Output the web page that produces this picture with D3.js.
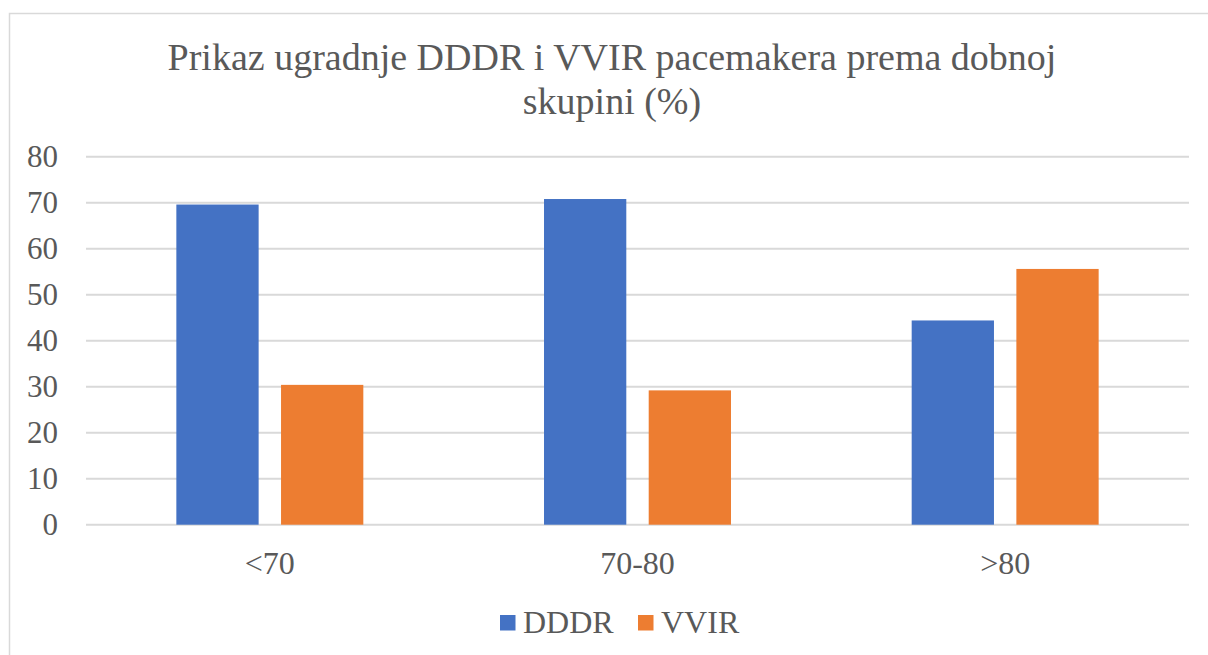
<!DOCTYPE html>
<html>
<head>
<meta charset="utf-8">
<script src="https://cdn.jsdelivr.net/npm/d3@7"></script>
<style>
  body { margin: 0; background: #fff; }
  text { font-family: "Liberation Serif", "Times New Roman", serif; fill: #595959; }
</style>
</head>
<body>
<svg id="chart"></svg>
<script>
var categories = ['<70', '70-80', '>80'];
var series = ['DDDR', 'VVIR'];
var dddr = [69.6, 70.8, 44.4];
var vvir = [30.4, 29.2, 55.6];
var yTicks = [0, 10, 20, 30, 40, 50, 60, 70, 80];
var titleLines = ['Prikaz ugradnje DDDR i VVIR pacemakera prema dobnoj', 'skupini (%)'];
var colors = ['#4472C4', '#ED7D31'];

var W = 1208, H = 655;
var plotL = 86, plotR = 1189, plotT = 156.7, plotB = 524.7;

var svg = d3.select('#chart')
  .attr('width', W)
  .attr('height', H);

// chart frame
svg.append('rect')
  .attr('x', 9.5).attr('y', 13.5)
  .attr('width', W + 20).attr('height', H + 20)
  .attr('fill', 'none')
  .attr('stroke', '#d9d9d9')
  .attr('stroke-width', 1.5);

var rows = categories.map(function(c, i) {
  return { cat: c, vals: [dddr[i], vvir[i]] };
});

var y = d3.scaleLinear().domain([0, 80]).range([plotB, plotT]);
var x0 = d3.scaleBand().domain(categories).range([plotL, plotR]).padding(0);
var x1 = d3.scaleBand().domain(series).range([0, x0.bandwidth()])
  .paddingInner(0.214).paddingOuter(0.863);

// gridlines
svg.append('g')
  .selectAll('line')
  .data(yTicks)
  .enter()
  .append('line')
  .attr('x1', plotL).attr('x2', plotR)
  .attr('y1', function(d) { return y(d); })
  .attr('y2', function(d) { return y(d); })
  .attr('stroke', '#d9d9d9')
  .attr('stroke-width', 2);

// y labels
svg.append('g')
  .selectAll('text')
  .data(yTicks)
  .enter()
  .append('text')
  .attr('x', 58)
  .attr('y', function(d) { return y(d); })
  .attr('dy', '0.33em')
  .attr('text-anchor', 'end')
  .style('font-size', '31px')
  .text(function(d) { return d; });

// bars
var groups = svg.append('g')
  .selectAll('g')
  .data(rows)
  .enter()
  .append('g')
  .attr('transform', function(d) { return 'translate(' + x0(d.cat) + ',0)'; });

groups.selectAll('rect')
  .data(function(d) { return d.vals.map(function(v, j) { return { s: series[j], v: v, j: j }; }); })
  .enter()
  .append('rect')
  .attr('x', function(d) { return x1(d.s); })
  .attr('width', x1.bandwidth())
  .attr('y', function(d) { return y(d.v); })
  .attr('height', function(d) { return plotB - y(d.v); })
  .attr('fill', function(d) { return colors[d.j]; });

// x labels
svg.append('g')
  .selectAll('text')
  .data(categories)
  .enter()
  .append('text')
  .attr('x', function(d) { return x0(d) + x0.bandwidth() / 2; })
  .attr('y', 574)
  .attr('text-anchor', 'middle')
  .style('font-size', '32px')
  .text(function(d) { return d; });

// title
svg.append('g')
  .selectAll('text')
  .data(titleLines)
  .enter()
  .append('text')
  .attr('x', 612)
  .attr('y', function(d, i) { return 70 + i * 44; })
  .attr('text-anchor', 'middle')
  .style('font-size', '38px')
  .text(function(d) { return d; });

// legend
var legX = [500, 638];
var leg = svg.append('g')
  .selectAll('g')
  .data(series)
  .enter()
  .append('g')
  .attr('transform', function(d, i) { return 'translate(' + legX[i] + ',615)'; });

leg.append('rect')
  .attr('width', 15.5).attr('height', 15.5)
  .attr('fill', function(d, i) { return colors[i]; });

leg.append('text')
  .attr('x', 23)
  .attr('y', 17.5)
  .style('font-size', '32px')
  .text(function(d) { return d; });
</script>
</body>
</html>
